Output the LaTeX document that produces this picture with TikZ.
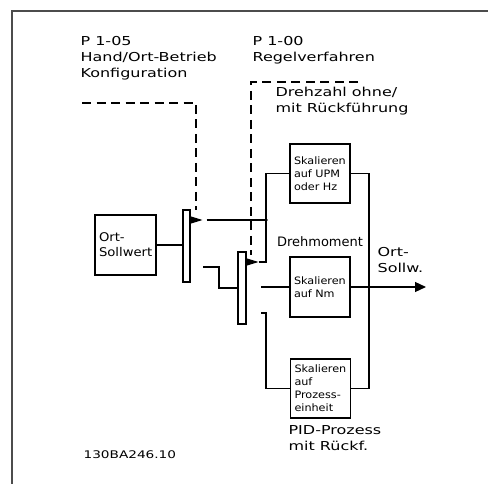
\documentclass[tikz,border=0pt]{standalone}
\usepackage{fontspec}
\setmainfont{DejaVu Sans}
\newfontfamily\lblfont[FakeStretch=1.3]{DejaVu Sans}
\newfontfamily\boxfont[FakeStretch=1.1]{DejaVu Sans}
\newfontfamily\midfont{DejaVu Sans}
\usetikzlibrary{arrows.meta,positioning}
\begin{document}
\begin{tikzpicture}[
        x=1pt, y=-1pt,
        line width=1.2pt,
        every node/.style={inner sep=0pt},
        lbl/.style={anchor=west, align=left, font=\lblfont\fontsize{12.3}{16}\selectfont},
        blk/.style={draw, minimum width=60pt, minimum height=59pt, text width=52pt, align=left, font=\boxfont\fontsize{10.2}{13}\selectfont},
        bar/.style={draw, minimum width=7pt, minimum height=72pt},
        contact/.style={-{Triangle[length=12pt,width=7pt]}},
        ctrl/.style={dash pattern=on 9pt off 5.5pt},
        dot/.style={circle, fill, minimum size=3.5pt},
    ]
    \useasboundingbox (0,0) rectangle (488,484);
    \draw[gray!60!black, line width=1.4pt] (12,484) -- (12,11) -- (488,11);

    \node[blk, minimum width=61pt, minimum height=60pt, text width=53pt, font=\boxfont\fontsize{12}{15}\selectfont] (ortsoll) at (125.5,245) {Ort-\\Sollwert};
    \node[bar] (sw1) at (186.5,246) {};
    \node[bar, minimum width=8pt] (sw2) at (242,288) {};
    \node[blk] (upm) at (320,173.5) {Skalieren\\auf UPM\\oder Hz};
    \node[blk, minimum height=60pt] (nm) at (320,287) {Skalieren\\auf Nm};
    \node[blk] (pid) at (320.5,388.5) {Skalieren\\auf\\Prozess-\\einheit};

    \node[lbl] (p105) at (80,58) {P 1-05\\Hand/Ort-Betrieb\\Konfiguration};
    \node[lbl] (p100) at (252,50) {P 1-00\\Regelverfahren};
    \node[lbl] (drehz) at (275,101) {Drehzahl ohne/\\mit Rückführung};
    \node[font=\midfont\fontsize{13}{15}\selectfont] (drehm) at (320,242) {Drehmoment};
    \node[lbl] (ortout) at (377,260) {Ort-\\Sollw.};
    \node[lbl] (pidlbl) at (288,438) {PID-Prozess\\mit Rückf.};
    \node[lbl, font=\lblfont\fontsize{10.5}{13}\selectfont] (code) at (83,455) {130BA246.10};

    \coordinate (c1) at (sw1.east |- 0,220);
    \coordinate (c2) at (sw2.east |- 0,262);
    \coordinate (j1) at (266,220);
    \coordinate (j2) at (369,287);
    \coordinate (o1) at (203,267);
    \coordinate (k1) at (219,267);
    \coordinate (o2) at (261,313);
    \coordinate (k2) at (266,313);
    \coordinate (i2) at (261,288);
    \coordinate (out) at (426,287);
    \coordinate (d1) at (82,103);
    \coordinate (d1e) at (196,210);
    \coordinate (d2) at (358,82);
    \coordinate (d2e) at (251,255);

    \draw (ortsoll.east) -- (ortsoll.east -| sw1.west);
    \draw[contact] (c1) -- ++(12,0);
    \draw ([xshift=16pt]c1) -- (j1) |- (upm.west);
    \draw[contact] (c2) -- ++(12,0);
    \draw ([xshift=12pt]c2) -| (j1);
    \draw (o1) -- (k1) |- (sw2.west);
    \draw (nm.west -| i2) -- (nm.west);
    \draw (o2) -- (k2) |- (pid.west);
    \draw (upm.east) -| (j2) |- (pid.east);
    \draw[-{Triangle[length=11pt,width=10pt]}] (nm.east) -- (out);
    \node[dot] at (j1) {};
    \node[dot] at (j2) {};

    \draw[ctrl] (d1) -| (d1e);
    \draw[ctrl] (d2) -| (d2e);
\end{tikzpicture}
\end{document}
